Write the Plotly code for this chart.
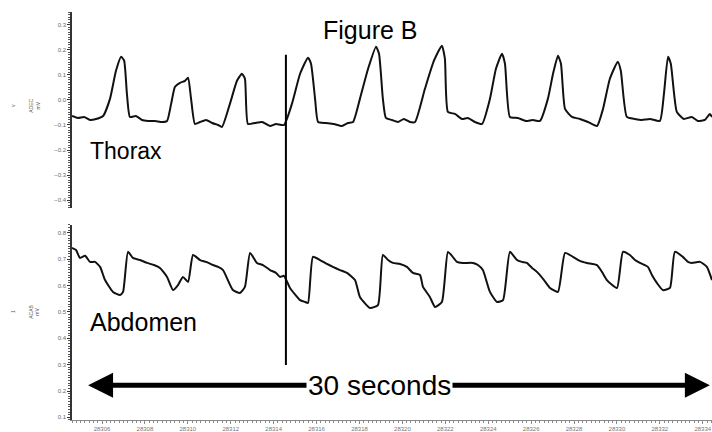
import plotly.graph_objects as go

# ---------------- data ----------------
thorax_t = [28304.60, 28304.88, 28305.16, 28305.44, 28305.72, 28306.05, 28306.37, 28306.65, 28306.89, 28307.03,
            28307.16, 28307.30, 28307.58, 28307.86, 28308.14, 28308.47, 28308.80, 28309.03, 28309.22, 28309.40,
            28309.63, 28309.87, 28310.01, 28310.15, 28310.33, 28310.57, 28310.85, 28311.13, 28311.41, 28311.59,
            28311.96, 28312.29, 28312.52, 28312.66, 28312.80, 28313.13, 28313.46, 28313.83, 28314.11, 28314.48,
            28314.85, 28315.23, 28315.60, 28315.74, 28315.93, 28316.07, 28316.44, 28316.81, 28317.18, 28317.46,
            28317.70, 28318.02, 28318.40, 28318.77, 28318.91, 28319.09, 28319.23, 28319.51, 28319.79, 28320.07,
            28320.35, 28320.59, 28321.05, 28321.47, 28321.84, 28321.98, 28322.12, 28322.45, 28322.78, 28323.05,
            28323.38, 28323.71, 28324.08, 28324.36, 28324.64, 28324.78, 28325.01, 28325.38, 28325.76, 28326.08,
            28326.41, 28326.78, 28327.02, 28327.25, 28327.39, 28327.58, 28327.90, 28328.27, 28328.65, 28329.07,
            28329.35, 28329.67, 28330.04, 28330.18, 28330.46, 28330.84, 28331.16, 28331.54, 28332.00, 28332.19,
            28332.38, 28332.51, 28332.79, 28333.12, 28333.49, 28333.77, 28334.10, 28334.33, 28334.43]
thorax_v = [-0.064, -0.072, -0.068, -0.080, -0.076, -0.064, 0.004, 0.116, 0.172, 0.156,
            0.024, -0.068, -0.064, -0.080, -0.084, -0.084, -0.088, -0.084, -0.016, 0.052,
            0.068, 0.076, 0.088, 0.004, -0.096, -0.088, -0.080, -0.092, -0.100, -0.108,
            -0.016, 0.076, 0.104, 0.084, -0.096, -0.092, -0.088, -0.104, -0.096, -0.100,
            -0.016, 0.104, 0.168, 0.144, 0.004, -0.088, -0.092, -0.096, -0.104, -0.092,
            -0.088, 0.004, 0.124, 0.212, 0.184, 0.004, -0.072, -0.080, -0.088, -0.076,
            -0.088, -0.088, 0.044, 0.156, 0.216, 0.164, -0.048, -0.056, -0.076, -0.072,
            -0.088, -0.096, 0.004, 0.124, 0.184, 0.144, -0.068, -0.072, -0.084, -0.080,
            -0.084, 0.004, 0.104, 0.176, 0.144, -0.036, -0.068, -0.076, -0.088, -0.104,
            -0.036, 0.084, 0.152, 0.116, -0.068, -0.076, -0.080, -0.076, -0.084, 0.024,
            0.172, 0.144, -0.048, -0.076, -0.068, -0.084, -0.080, -0.056, -0.068]

abdomen_t = [28304.60, 28304.79, 28304.97, 28305.21, 28305.44, 28305.67, 28305.91, 28306.14, 28306.51, 28306.84,
             28306.98, 28307.21, 28307.44, 28307.77, 28308.10, 28308.42, 28308.70, 28309.03, 28309.31, 28309.54,
             28309.77, 28310.01, 28310.24, 28310.57, 28310.85, 28311.17, 28311.41, 28311.64, 28312.10, 28312.43,
             28312.66, 28312.90, 28313.22, 28313.50, 28313.83, 28314.11, 28314.29, 28314.48, 28314.76, 28315.23,
             28315.46, 28315.60, 28315.83, 28316.16, 28316.48, 28316.76, 28317.09, 28317.42, 28317.79, 28318.02,
             28318.49, 28318.86, 28319.09, 28319.33, 28319.56, 28319.89, 28320.21, 28320.49, 28320.82, 28320.96,
             28321.28, 28321.52, 28321.84, 28322.12, 28322.31, 28322.54, 28322.82, 28323.29, 28323.52, 28323.75,
             28324.08, 28324.41, 28324.69, 28325.01, 28325.34, 28325.57, 28325.80, 28326.04, 28326.27, 28326.60,
             28326.88, 28327.25, 28327.58, 28327.95, 28328.27, 28328.60, 28329.07, 28329.30, 28329.53, 28330.00,
             28330.28, 28330.60, 28330.84, 28331.07, 28331.44, 28331.63, 28331.86, 28332.14, 28332.47, 28332.70,
             28333.07, 28333.31, 28333.49, 28333.87, 28334.19, 28334.43]
abdomen_v = [0.743, 0.735, 0.705, 0.713, 0.690, 0.690, 0.671, 0.621, 0.576, 0.564,
             0.576, 0.728, 0.705, 0.697, 0.686, 0.678, 0.667, 0.633, 0.583, 0.602,
             0.633, 0.614, 0.716, 0.697, 0.690, 0.678, 0.671, 0.659, 0.583, 0.572,
             0.595, 0.724, 0.686, 0.678, 0.659, 0.648, 0.633, 0.637, 0.591, 0.545,
             0.538, 0.534, 0.709, 0.697, 0.682, 0.671, 0.659, 0.648, 0.621, 0.557,
             0.515, 0.526, 0.716, 0.697, 0.686, 0.682, 0.671, 0.648, 0.640, 0.595,
             0.557, 0.519, 0.538, 0.728, 0.713, 0.690, 0.686, 0.686, 0.678, 0.659,
             0.576, 0.538, 0.545, 0.728, 0.697, 0.690, 0.686, 0.667, 0.652, 0.621,
             0.591, 0.576, 0.724, 0.709, 0.694, 0.686, 0.678, 0.652, 0.621, 0.591,
             0.728, 0.716, 0.697, 0.686, 0.671, 0.640, 0.610, 0.583, 0.591, 0.728,
             0.709, 0.690, 0.686, 0.690, 0.671, 0.621]

x_range = [28304.60, 28334.43]
x_tick0 = 28306
marker_time = 28314.57          # vertical cursor
span_start, span_end = 28305.35, 28334.33   # "30 seconds" arrow
span_level = 0.222
title_text = "Figure B"
thorax_label = "Thorax"
abdomen_label = "Abdomen"
span_label = "30 seconds"

FONT = "Arial, Liberation Sans, sans-serif"

fig = go.Figure()
fig.add_trace(go.Scatter(x=thorax_t, y=thorax_v, mode="lines", xaxis="x", yaxis="y",
                         line=dict(color="#111", width=2, shape="spline", smoothing=0.5),
                         showlegend=False, hoverinfo="skip"))
fig.add_trace(go.Scatter(x=abdomen_t, y=abdomen_v, mode="lines", xaxis="x2", yaxis="y2",
                         line=dict(color="#111", width=2, shape="spline", smoothing=0.5),
                         showlegend=False, hoverinfo="skip"))

yaxis_common = dict(showline=True, linecolor="#333", linewidth=1.5, ticks="outside", ticklen=3,
                    tickcolor="#333", tickwidth=1, showgrid=False, zeroline=False, automargin=False,
                    tickfont=dict(size=6, color="#666", family=FONT), tickformat=".1f", dtick=0.1,
                    minor=dict(dtick=0.01, ticks="outside", ticklen=2, tickcolor="#555", showgrid=False))

fig.update_layout(
    width=712, height=432,
    margin=dict(l=72, r=0, t=12, b=12),
    paper_bgcolor="white", plot_bgcolor="white",
    xaxis=dict(domain=[0, 1], range=x_range, anchor="y", matches="x2", showline=False,
               showticklabels=False, ticks="", showgrid=False, zeroline=False, automargin=False),
    xaxis2=dict(domain=[0, 1], range=x_range, anchor="y2", showline=True, linecolor="#888",
                linewidth=1, ticks="outside", ticklen=3, tickcolor="#888", tick0=x_tick0, dtick=2,
                tickformat="d", showgrid=False, zeroline=False, automargin=False,
                tickfont=dict(size=6, color="#777", family=FONT),
                minor=dict(dtick=0.2, ticks="outside", ticklen=2, tickcolor="#888", showgrid=False)),
    yaxis=dict(domain=[0.52, 1.0], range=[-0.43, 0.35], anchor="x", **yaxis_common),
    yaxis2=dict(domain=[0.0, 0.478], range=[0.09, 0.83], anchor="x2", **yaxis_common),
)

fig.add_shape(type="line", xref="x2", yref="paper", x0=marker_time, x1=marker_time,
              y0=0.135, y1=0.895, line=dict(color="black", width=2))

ann = []
ann.append(dict(text=title_text, xref="paper", yref="paper", x=0.465, y=0.955, showarrow=False,
                font=dict(size=25, color="black", family=FONT), xanchor="center", yanchor="middle"))
ann.append(dict(text=thorax_label, xref="paper", yref="paper", x=0.025, y=0.66, showarrow=False,
                font=dict(size=23, color="black", family=FONT), xanchor="left", yanchor="middle"))
ann.append(dict(text=abdomen_label, xref="paper", yref="paper", x=0.025, y=0.24, showarrow=False,
                font=dict(size=25, color="black", family=FONT), xanchor="left", yanchor="middle"))
mid = (span_start + span_end) / 2
for end in (span_start, span_end):
    ann.append(dict(text="", x=end, y=span_level, xref="x2", yref="y2", ax=mid, ay=span_level,
                    axref="x2", ayref="y2", showarrow=True, arrowhead=2, arrowsize=1.0,
                    arrowwidth=5, arrowcolor="black", standoff=0, startstandoff=0))
ann.append(dict(text=span_label, x=28318.95, y=span_level, xref="x2", yref="y2", showarrow=False,
                font=dict(size=28, color="black", family=FONT), bgcolor="white",
                xanchor="center", yanchor="middle", borderpad=1))
# channel labels (tiny rotated)
ann.append(dict(text="ADEC<br>mV", xref="paper", yref="paper", x=-0.058, y=0.77, xanchor="center",
                yanchor="middle", showarrow=False, textangle=-90, font=dict(size=5, color="#555", family=FONT)))
ann.append(dict(text="v", xref="paper", yref="paper", x=-0.092, y=0.77, xanchor="center",
                yanchor="middle", showarrow=False, textangle=-90, font=dict(size=5, color="#555", family=FONT)))
ann.append(dict(text="ACAB<br>mV", xref="paper", yref="paper", x=-0.058, y=0.265, xanchor="center",
                yanchor="middle", showarrow=False, textangle=-90, font=dict(size=5, color="#555", family=FONT)))
ann.append(dict(text="1", xref="paper", yref="paper", x=-0.092, y=0.265, xanchor="center",
                yanchor="middle", showarrow=False, textangle=-90, font=dict(size=5, color="#555", family=FONT)))
fig.update_layout(annotations=ann)

fig.write_html("out.html", config={"displayModeBar": False},
               post_script="document.body.style.margin='0';")
